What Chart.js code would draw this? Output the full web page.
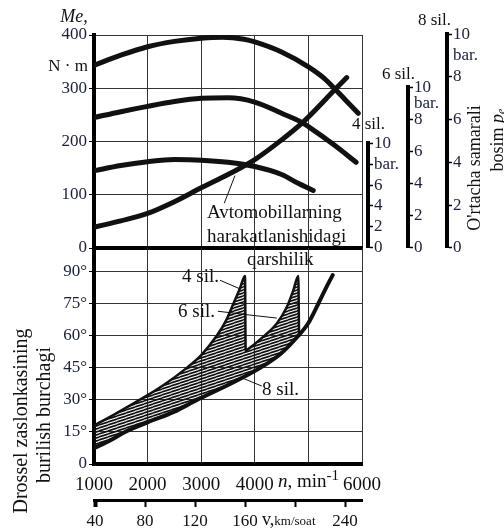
<!DOCTYPE html>
<html>
<head>
<meta charset="utf-8">
<script src="https://cdn.jsdelivr.net/npm/chart.js@4.4.0/dist/chart.umd.min.js"></script>
<style>
  html, body { margin: 0; padding: 0; background: #fff; width: 504px; height: 531px; overflow: hidden; }
  canvas { position: absolute; }
</style>
</head>
<body>
<canvas id="top" width="504" height="262" style="left:0;top:0"></canvas>
<canvas id="bot" width="504" height="295" style="left:0;top:236px"></canvas>
<canvas id="p4" width="44" height="127" style="left:364px;top:132px"></canvas>
<canvas id="p6" width="44" height="183" style="left:404px;top:76px"></canvas>
<canvas id="p8" width="44" height="236" style="left:443px;top:23px"></canvas>
<script>
// axis ticks
const rpmTicks = [1000, 2000, 3000, 4000, 5000, 6000];
const meTicks = [0, 100, 200, 300, 400];
const degTicks = [0, 15, 30, 45, 60, 75, 90];
const speedTicks = [40, 80, 120, 160, 200, 240];
const bar4Ticks = [0, 2, 4, 6, 8, 10];
const bar68Ticks = [0, 2, 4, 6, 8, 9, 10];

// torque curves, N·m
const me8Rpm = [1000, 1500, 2000, 2500, 3000, 3400, 3800, 4000, 4500, 5000, 5300, 5500, 5700, 5930];
const me8 = [343, 362, 378, 388, 394, 396, 392, 387, 368, 340, 318, 298, 277, 253];
const me6Rpm = [1000, 1500, 2000, 2500, 3000, 3500, 4000, 4500, 4875, 5000, 5500, 5890];
const me6 = [245, 256, 266, 275, 281, 282, 274, 253, 236, 228, 192, 161];
const me4Rpm = [1000, 1500, 2000, 2500, 3000, 3500, 4000, 4500, 4800, 5090];
const me4 = [145, 155, 162, 166, 165, 161, 153, 138, 122, 108];
// road resistance
const resRpm = [1000, 1500, 2000, 2500, 3000, 3500, 4000, 4500, 4875, 5000, 5500, 5715];
const resMe = [39, 51, 65, 87, 113, 138, 166, 203, 234, 246, 298, 320];

// throttle angle, degrees
const upperRpm = [1000, 1400, 1850, 2300, 2730, 3000, 3290, 3460, 3600, 3720, 3817, 3830, 3850, 4160, 4410, 4600, 4720, 4812, 4825];
const upperDeg = [18, 23.5, 30, 37, 45, 51, 60, 67, 75, 82, 88, 53, 53.3, 59.6, 65.8, 73.6, 81.4, 88, 60];
const lowerRpm = [1000, 1300, 1580, 2000, 2500, 2920, 3500, 4100, 4500, 4812, 5000, 5185, 5320, 5453];
const lowerDeg = [7.4, 11, 15, 19.5, 24.5, 30, 37, 45, 52, 60, 66, 75, 82, 88.4];

// leader lines
const leadTopRpm = [3430, 3630];
const leadTopMe = [84, 136];
const lead4Rpm = [3350, 3720];
const lead4Deg = [86, 82];
const lead6Rpm = [3310, 3910, 4410];
const lead6Deg = [71.5, 69.7, 68.3];
const lead8Rpm = [4130, 3720];
const lead8Deg = [36.5, 40.7];

const SERIF = "'Liberation Serif', 'Times New Roman', serif";
Chart.defaults.font.family = SERIF;
Chart.defaults.color = '#111';
const INK = '#111';
const NUM = '#1a1f3a';
const GRID = '#333';

const pts = (xs, ys) => xs.map((x, i) => ({ x, y: ys[i] }));
const fixTicks = list => s => { s.ticks = list.map(v => ({ value: v })); };
const f = (size, style) => (style ? style + ' ' : '') + size + 'px ' + SERIF;

const base = {
  responsive: false, animation: false, events: [],
  plugins: { legend: { display: false }, tooltip: { enabled: false } },
  elements: { point: { radius: 0 } }
};

function textPlugin(items, offY) {
  return {
    id: 'texts',
    afterDraw(chart) {
      const c = chart.ctx;
      items.forEach(t => {
        c.save();
        c.translate(t.x, t.y - offY);
        if (t.rot) c.rotate(t.rot);
        c.textBaseline = 'middle';
        c.fillStyle = INK;
        const runs = t.runs || [{ s: t.s }];
        let total = 0;
        runs.forEach(r => { c.font = r.f || t.f; total += c.measureText(r.s).width; });
        let x = t.align === 'center' ? -total / 2 : t.align === 'right' ? -total : 0;
        runs.forEach(r => {
          c.font = r.f || t.f;
          c.fillText(r.s, x, r.dy || 0);
          x += c.measureText(r.s).width;
        });
        c.restore();
      });
    }
  };
}

function hatch() {
  const cv = document.createElement('canvas');
  cv.width = 9; cv.height = 3;
  const g = cv.getContext('2d');
  g.strokeStyle = '#111';
  g.lineWidth = 1.7;
  for (let k = -1; k <= 2; k++) {
    g.beginPath(); g.moveTo(0, 3 + 3 * k); g.lineTo(9, 3 * k); g.stroke();
  }
  return g.createPattern(cv, 'repeat');
}

const curve = (xs, ys, w) => ({
  data: pts(xs, ys), borderColor: INK, borderWidth: w || 5,
  cubicInterpolationMode: 'monotone', borderCapStyle: 'round', fill: false
});
const leader = (xs, ys) => ({ data: pts(xs, ys), borderColor: INK, borderWidth: 1, fill: false });

const topTexts = [
  { x: 74, y: 17, align: 'center', f: f(18, 'italic'), s: 'Me,' },
  { x: 88, y: 67, align: 'right', f: f(17), s: 'N · m' },
  { x: 207, y: 213, f: f(19), s: 'Avtomobillarning' },
  { x: 207, y: 237, f: f(19), s: 'harakatlanishidagi' },
  { x: 352, y: 125, f: f(17), s: '4 sil.' },
  { x: 382, y: 75, f: f(17), s: '6 sil.' },
  { x: 418, y: 21, f: f(17), s: '8 sil.' },
  { x: 475, y: 168, rot: -Math.PI / 2, align: 'center', f: f(18), s: "O'rtacha samarali" },
  { x: 498, y: 140, rot: -Math.PI / 2, align: 'center', f: f(18),
    runs: [{ s: 'bosim ' }, { s: 'p', f: f(18, 'italic') }, { s: 'e', f: f(12, 'italic'), dy: 4 }] }
];

const botTexts = [
  { x: 247, y: 260, f: f(19), s: 'qarshilik' },
  { x: 182, y: 277, f: f(19), s: '4 sil.' },
  { x: 178, y: 312, f: f(19), s: '6 sil.' },
  { x: 262, y: 390, f: f(19), s: '8 sil.' },
  { x: 22, y: 421, rot: -Math.PI / 2, align: 'center', f: f(20), s: 'Drossel zaslonkasining' },
  { x: 45, y: 415, rot: -Math.PI / 2, align: 'center', f: f(20), s: 'burilish burchagi' },
  { x: 278, y: 482, f: f(19), runs: [{ s: 'n', f: f(19, 'italic') }, { s: ', min' }, { s: '-1', f: f(15), dy: -6 }] },
  { x: 262, y: 520, f: f(18), runs: [{ s: 'v,' }, { s: 'km/soat', f: f(13), dy: 2 }] }
];

new Chart(document.getElementById('top'), {
  type: 'line',
  data: { datasets: [
    curve(me8Rpm, me8), curve(me6Rpm, me6), curve(me4Rpm, me4), curve(resRpm, resMe),
    leader(leadTopRpm, leadTopMe)
  ] },
  options: {
    ...base,
    layout: { padding: { left: 0, right: 142, top: 35, bottom: 2 } },
    scales: {
      x: {
        type: 'linear', min: 1000, max: 6000,
        afterBuildTicks: fixTicks(rpmTicks), afterFit: s => { s.height = 12; },
        ticks: { display: false },
        grid: { color: GRID, lineWidth: 1, drawTicks: false },
        border: { color: '#000', width: 4 }
      },
      y: {
        min: 0, max: 400,
        afterBuildTicks: fixTicks(meTicks), afterFit: s => { s.width = 94; },
        ticks: { font: { size: 17 }, padding: 2, color: NUM, autoSkip: false },
        grid: { color: GRID, lineWidth: 1, tickLength: 5, tickColor: '#000' },
        border: { color: '#000', width: 4 }
      }
    }
  },
  plugins: [textPlugin(topTexts, 0)]
});

const upper = curve(upperRpm, upperDeg, 2.5);
upper.fill = 1;
upper.backgroundColor = hatch();

new Chart(document.getElementById('bot'), {
  type: 'line',
  data: { datasets: [
    upper, curve(lowerRpm, lowerDeg, 4),
    leader(lead4Rpm, lead4Deg), leader(lead6Rpm, lead6Deg), leader(lead8Rpm, lead8Deg)
  ] },
  options: {
    ...base,
    layout: { padding: { left: 0, right: 142, top: 12, bottom: 0 } },
    scales: {
      x: {
        type: 'linear', min: 1000, max: 6000, weight: 0,
        afterBuildTicks: fixTicks(rpmTicks), afterFit: s => { s.height = 36; },
        ticks: { font: { size: 19 }, padding: 10, color: INK, autoSkip: false, callback: v => v === 5000 ? '' : String(v) },
        grid: { color: GRID, lineWidth: 1, drawTicks: false },
        border: { color: '#000', width: 4 }
      },
      x2: {
        type: 'linear', position: 'bottom', min: 39.2, max: 253.6, weight: 1,
        afterBuildTicks: fixTicks(speedTicks), afterFit: s => { s.height = 31; },
        ticks: { font: { size: 17 }, padding: 4, color: INK, autoSkip: false, callback: v => v === 200 ? '' : String(v) },
        grid: { drawOnChartArea: false, tickLength: 7, tickColor: '#000', tickWidth: c => c.index === 0 ? 4 : 2 },
        border: { color: '#000', width: 3 }
      },
      y: {
        min: 0, max: 101,
        afterBuildTicks: fixTicks(degTicks), afterFit: s => { s.width = 94; },
        ticks: { font: { size: 17 }, padding: 2, color: NUM, autoSkip: false, callback: v => v === 0 ? '0' : v + '°' },
        grid: { color: GRID, lineWidth: 1, tickLength: 5, tickColor: '#000' },
        border: { color: '#000', width: 4 }
      }
    }
  },
  plugins: [textPlugin(botTexts, 236)]
});

function barScale(id, ticks, barAt) {
  new Chart(document.getElementById(id), {
    type: 'line',
    data: { datasets: [] },
    options: {
      ...base,
      layout: { padding: { top: 11, bottom: 11, left: 0, right: 0 } },
      scales: {
        x: { type: 'linear', display: false, min: 0, max: 1 },
        y: {
          position: 'right', min: 0, max: 10,
          afterBuildTicks: fixTicks(ticks), afterFit: s => { s.width = 40; },
          ticks: { font: { size: 17 }, padding: 1, color: NUM, autoSkip: false, callback: v => v === barAt ? 'bar.' : String(v) },
          grid: {
            drawOnChartArea: false, tickLength: 5, tickWidth: 1.5,
            tickColor: c => c.tick && c.tick.value === 9 ? 'rgba(0,0,0,0)' : '#000'
          },
          border: { color: '#000', width: 4 }
        }
      }
    }
  });
}
barScale('p4', bar4Ticks, 8);
barScale('p6', bar68Ticks, 9);
barScale('p8', bar68Ticks, 9);
</script>
</body>
</html>
